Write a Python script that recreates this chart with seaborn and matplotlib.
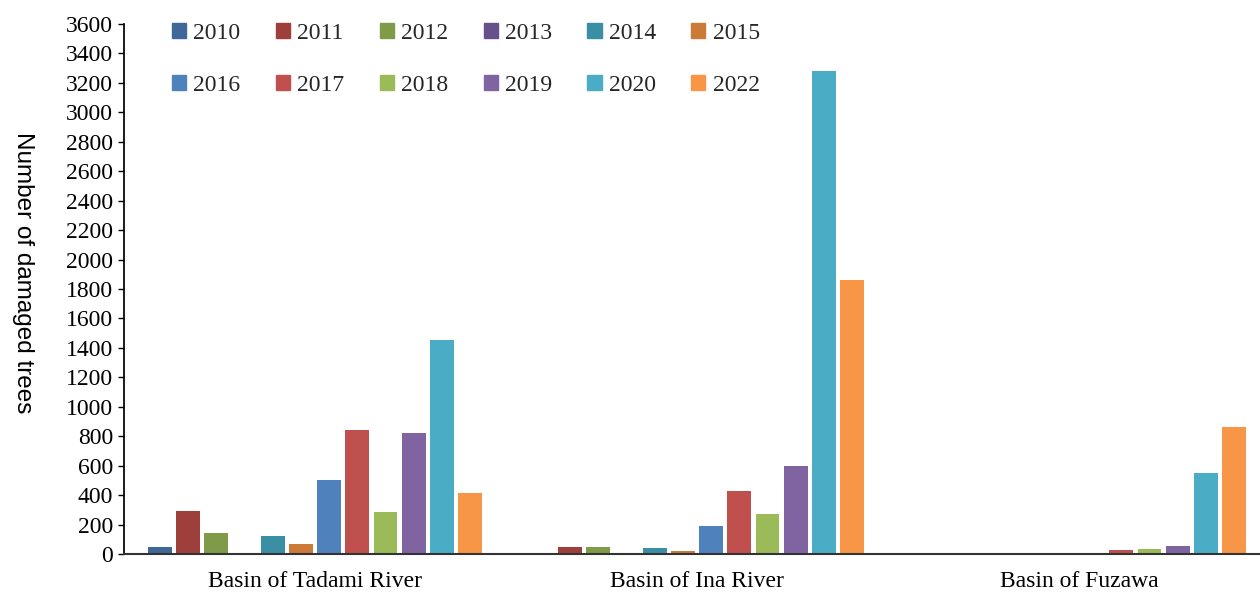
import matplotlib
matplotlib.use("Agg")
import matplotlib.pyplot as plt
import seaborn as sns
import pandas as pd

# Damaged trees per basin and survey year
basins = ["Basin of Tadami River", "Basin of Ina River", "Basin of Fuzawa"]
years = ["2010", "2011", "2012", "2013", "2014", "2015",
         "2016", "2017", "2018", "2019", "2020", "2022"]
tadami = [48, 295, 143, 0, 122, 68, 503, 842, 285, 822, 1454, 414]
ina = [0, 48, 48, 0, 40, 20, 190, 428, 272, 598, 3281, 1861]
fuzawa = [0, 3, 0, 0, 0, 2, 2, 27, 34, 54, 552, 865]

colors = ["#3F6797", "#9E3F3C", "#7F9A48", "#67518A", "#3B8FA4", "#CC7A37",
          "#4F81BD", "#C0504D", "#9BBB59", "#8064A2", "#4BACC6", "#F79646"]

rows = []
for basin, vals in zip(basins, [tadami, ina, fuzawa]):
    for yr, v in zip(years, vals):
        rows.append({"basin": basin, "year": yr, "trees": v})
df = pd.DataFrame(rows)

sns.set_theme(style="white")
plt.rcParams["font.family"] = ["Liberation Serif", "DejaVu Serif"]
FS = 17

fig = plt.figure(figsize=(12.6, 5.93), dpi=100)
ax = fig.add_axes([124 / 1260, 1 - 554 / 593, 1146 / 1260, 530 / 593])

sns.barplot(data=df, x="basin", y="trees", hue="year", order=basins,
            hue_order=years, palette=colors, width=0.886, gap=0.15,
            saturation=1, linewidth=0, ax=ax, legend=False)

ax.set_xlim(-0.5, 2.5)
ax.set_ylim(0, 3600)
ax.set_yticks(range(0, 3601, 200))
ax.tick_params(axis="y", labelsize=FS, length=4, width=1, color="black",
               direction="out", left=True, pad=4)
ax.tick_params(axis="x", labelsize=FS, length=0, pad=12.5)
for lbl in ax.get_yticklabels() + ax.get_xticklabels():
    lbl.set_color("black")

ax.set_xlabel("")
ax.set_ylabel("Number of damaged trees", family="Liberation Sans",
              fontsize=17.5, rotation=270, color="black")
ax.yaxis.set_label_coords(-0.098, 0.53)

for side in ["top", "right"]:
    ax.spines[side].set_visible(False)
ax.spines["left"].set_color("black")
ax.spines["bottom"].set_color("#333333")
ax.spines["bottom"].set_linewidth(1.5)

# Legend filled row by row: two rows of six years
handles = [plt.Rectangle((0, 0), 1, 1, color=c) for c in colors]
order = [i + 6 * r for i in range(6) for r in range(2)]
ax.legend([handles[i] for i in order], [years[i] for i in order],
          ncol=6, loc="upper left",
          bbox_to_anchor=(0.0235, 1.042), frameon=False, fontsize=FS,
          handlelength=0.6, handleheight=0.6, handletextpad=0.3,
          columnspacing=1.5, labelspacing=1.32)

fig.savefig("out.png", dpi=100)
